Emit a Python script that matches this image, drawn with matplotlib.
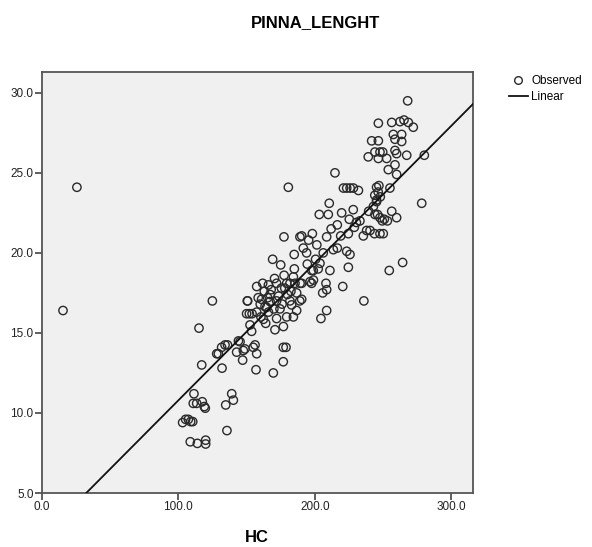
import matplotlib
matplotlib.use("Agg")
import matplotlib.pyplot as plt
from matplotlib.lines import Line2D
import numpy as np

plt.rcParams['font.family'] = ['Liberation Sans', 'DejaVu Sans']

# ---- data ----
hc = [
    15.4, 25.6,
    103.1, 105.3, 107.3, 109.0, 110.5, 108.7, 113.9, 120.0, 120.0, 111.4, 110.9, 113.4, 117.5, 119.0, 119.7,
    134.7, 139.1, 140.3, 135.6,
    115.1, 117.1, 124.9, 132.0, 128.1, 129.3, 131.7, 134.2, 136.0, 144.0, 145.2, 142.7, 147.6, 147.1, 148.8,
    154.9, 156.2, 157.4, 156.9, 169.6, 176.9, 176.9, 178.9, 170.8, 177.0, 150.5, 150.0, 152.0, 154.0, 157.4,
    152.5, 153.7, 162.3, 164.7, 166.0, 172.0, 179.4, 184.3, 186.7, 163.5, 167.2, 172.0, 174.5, 181.8, 189.0,
    186.7, 180.0, 183.0, 167.2, 161.0, 150.8,
    157.4, 161.8, 166.0, 172.0, 179.4, 181.8, 185.5, 189.2, 184.3, 169.1, 175.0, 177.4, 189.1, 198.2, 208.7,
    184.9, 191.6, 194.0, 185.0, 200.6, 206.2, 203.8, 208.2, 205.8, 208.7, 204.5, 197.7, 199.0, 197.7, 208.7,
    196.5, 190.4, 190.4, 211.1, 198.9,
    180.6, 210.6, 203.3, 209.9, 219.7, 228.2, 214.8, 216.5, 225.3, 233.1, 238.0, 240.5, 243.8, 247.8, 250.2,
    235.6, 224.6, 219.0, 190.4, 213.6, 216.5, 223.4, 225.8, 224.6, 220.5, 236.0, 254.6, 264.4,
    221.0, 223.4, 225.9, 228.3, 245.3, 244.0, 245.3, 246.5, 247.0, 248.0, 255.1, 245.3, 244.1, 246.0, 247.8,
    253.2, 256.4, 260.0, 278.4, 249.5, 251.0,
    268.1, 246.6, 256.4, 262.5, 265.4, 268.6, 272.2, 257.6, 263.7, 258.8, 263.7, 241.7, 246.6, 258.8, 260.0,
    244.1, 247.8, 249.8, 239.2, 246.6, 252.7, 267.4, 280.3, 258.8, 253.9, 260.0,
    158.5, 160.0, 163.0, 165.5, 168.0, 170.0, 173.5, 176.0, 178.0, 182.5, 170.5, 175.5, 177.5, 160.5, 164.0,
    194.5, 201.5, 202.5, 195.5, 212.0, 230.5, 232.0, 229.0, 239.5, 243.0,
]
pinna = [
    16.4, 24.1,
    9.4, 9.6, 9.6, 9.46, 9.46, 8.2, 8.1, 8.3, 8.06, 11.2, 10.6, 10.6, 10.7, 10.4, 10.3,
    10.5, 11.2, 10.8, 8.9,
    15.3, 13.0, 17.0, 12.8, 13.7, 13.7, 14.1, 14.25, 14.25, 14.5, 14.45, 13.8, 13.9, 13.3, 14.0,
    14.1, 14.25, 13.7, 12.7, 12.5, 13.2, 14.1, 14.1, 15.2, 15.4, 17.0, 16.2, 16.2, 16.2, 16.3,
    15.5, 15.1, 15.85, 16.6, 16.3, 15.9, 16.0, 16.0, 16.4, 16.65, 16.96, 17.0, 16.5, 17.0, 17.0,
    17.5, 17.4, 16.75, 17.4, 17.1, 17.0,
    17.9, 18.1, 18.0, 18.1, 18.1, 18.1, 18.1, 18.1, 18.5, 19.6, 19.25, 21.0, 21.0, 21.2, 21.0,
    19.9, 20.3, 20.0, 19.0, 19.6, 20.0, 19.35, 18.1, 17.5, 16.4, 15.9, 18.9, 18.3, 18.1, 17.7,
    18.2, 18.1, 17.1, 18.9, 18.9,
    24.1, 23.1, 22.4, 22.4, 22.5, 22.7, 25.0, 21.75, 22.1, 22.0, 21.4, 21.4, 21.2, 21.2, 21.2,
    21.06, 21.2, 21.06, 21.06, 20.2, 20.3, 20.1, 19.9, 19.1, 17.9, 17.0, 18.9, 19.4,
    24.05, 24.05, 24.05, 24.05, 24.1, 23.6, 23.3, 23.8, 24.2, 23.5, 24.05, 23.2, 22.4, 22.4, 22.2,
    22.0, 22.6, 22.2, 23.1, 22.0, 22.1,
    29.5, 28.1, 28.15, 28.2, 28.3, 28.15, 27.85, 27.4, 27.4, 27.1, 26.96, 27.0, 27.0, 26.4, 26.2,
    26.3, 26.3, 26.3, 26.0, 25.9, 25.9, 26.1, 26.1, 25.5, 25.2, 24.9,
    17.2, 16.8, 17.6, 17.2, 17.7, 16.5, 17.3, 16.8, 17.8, 17.6, 18.4, 17.8, 18.6, 16.0, 15.6,
    19.3, 20.5, 19.0, 20.8, 21.5, 21.9, 23.9, 21.6, 22.6, 22.9,
]
fit_intercept = 2.22
fit_slope = 0.0857

x_ticks = [0, 100, 200, 300]
y_ticks = [5, 10, 15, 20, 25, 30]
title = "PINNA_LENGHT"
x_label = "HC"
legend_labels = ["Observed", "Linear"]

# ---- figure ----
fig = plt.figure(figsize=(5.92, 5.47), dpi=100)
ax = fig.add_axes([42/592, 54/547, (473-42)/592, (493-72)/547])
ax.set_facecolor('#f0f0f0')

x_min, x_max = 0, 316
y_min, y_max = 5, 31.3
ax.set_xlim(x_min, x_max)
ax.set_ylim(y_min, y_max)

ax.scatter(hc, pinna, s=36, facecolors='none', edgecolors='#2a2a2a', linewidths=1.0, zorder=3)

x_start = (y_min - fit_intercept) / fit_slope
xs = np.array([x_start, x_max])
ax.plot(xs, fit_intercept + fit_slope * xs, color='#111111', lw=1.3, zorder=4)

ax.set_xticks(x_ticks)
ax.set_yticks(y_ticks)
ax.set_xticklabels([f"{t:.1f}" for t in x_ticks])
ax.set_yticklabels([f"{t:.1f}" for t in y_ticks])
ax.tick_params(direction='out', length=5, width=1.2, color='#444444', labelsize=8.5,
               labelcolor='#222222', pad=1)
for sp in ax.spines.values():
    sp.set_color('#555555')
    sp.set_linewidth(1.3)

fig.text(316/592, 1 - 23/547, title, ha='center', va='center', fontsize=12, fontweight='bold')
fig.text(257/592, 1 - 537/547, x_label, ha='center', va='center', fontsize=12, fontweight='bold')

handles = [
    Line2D([], [], marker='o', ls='none', markerfacecolor='none', markeredgecolor='#2a2a2a',
           markersize=5.5, markeredgewidth=1.0),
    Line2D([], [], color='#111111', lw=1.3),
]
fig.legend(handles, legend_labels, loc='upper left', bbox_to_anchor=(509/592, 1 - 75/547),
           frameon=False, fontsize=8.5, handlelength=1.6, handletextpad=0.3,
           labelspacing=0.35, borderpad=0, borderaxespad=0)

fig.savefig("out.png", dpi=100)
